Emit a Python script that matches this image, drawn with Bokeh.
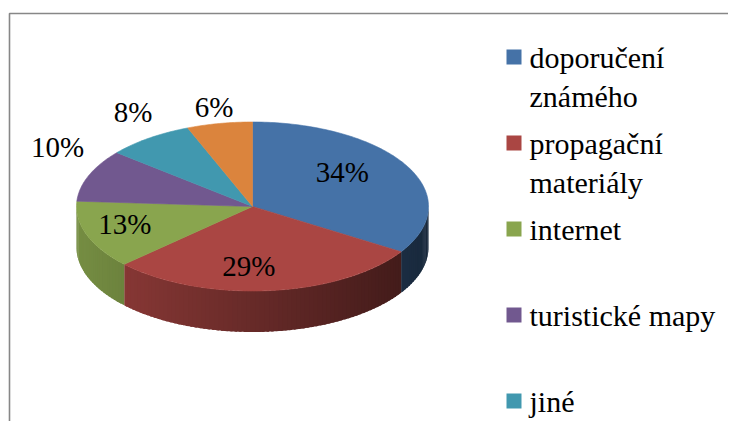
import numpy as np
from bokeh.plotting import figure
from bokeh.models import Range1d
from bokeh.embed import file_html
from bokeh.resources import INLINE
from bokeh.core.properties import value

# ---------------- data ----------------
shares = [34, 29, 13, 10, 8, 6]
slice_colors = ["#4572A7", "#AA4643", "#89A54E", "#71588F", "#4198AF", "#DB843D"]
legend_labels = ["doporučení\nznámého", "propagační\nmateriály", "internet",
                 "turistické mapy", "jiné"]

# ---------------- layout ----------------
W, H = 728, 421
CX, CY = 252.0, 206.0
RX, RY = 176.0, 84.5
DEPTH = 41.0
FONT = "Liberation Serif"

p = figure(width=W, height=H, x_range=Range1d(0, W), y_range=Range1d(H, 0),
           output_backend="svg", toolbar_location=None, min_border=0,
           x_axis_location=None, y_axis_location=None)
p.grid.visible = False
p.outline_line_color = None
p.background_fill_color = "white"
p.border_fill_color = "white"

# chart frame (left + top edges, the rest lies outside the picture)
p.line(x=[9, 9, W + 40], y=[H + 40, 13, 13], line_color="#878787", line_width=1.6)

vals = np.array(shares, dtype=float)
frac = vals / vals.sum()
cum = np.concatenate([[0.0], np.cumsum(frac)])
start_deg = 90.0 - 360.0 * cum[:-1]
end_deg = 90.0 - 360.0 * cum[1:]


def shade(h, f):
    h = h.lstrip("#")
    r, g, b = (int(h[i:i + 2], 16) for i in (0, 2, 4))
    return "#%02x%02x%02x" % (int(r * f), int(g * f), int(b * f))


def ex(t):
    return CX + RX * np.cos(t)


def ey(t):
    return CY - RY * np.sin(t)


# ---------------- sides (front half, shaded strips) ----------------
side_xs, side_ys, side_cols = [], [], []
for s, e, col in zip(start_deg, end_deg, slice_colors):
    hi = min(s, 0.0)
    lo = max(e, -180.0)
    if lo >= hi:
        continue
    n = max(2, int(np.ceil((hi - lo) / 1.5)) + 1)
    th_deg = np.linspace(hi, lo, n)
    for k in range(n - 1):
        a_d = th_deg[k]
        b_d = max(lo, th_deg[k + 1] - 0.8) if k < n - 2 else th_deg[k + 1]
        seg = np.radians(np.linspace(a_d, b_d, 3))
        top_x = ex(seg)
        top_y = ey(seg)
        side_xs.append(np.concatenate([top_x, top_x[::-1]]).tolist())
        side_ys.append(np.concatenate([top_y, (top_y + DEPTH)[::-1]]).tolist())
        u = (np.cos(np.radians((th_deg[k] + th_deg[k + 1]) / 2)) + 1) / 2
        side_cols.append(shade(col, 0.86 - 0.5 * u))
p.patches(xs=side_xs, ys=side_ys, fill_color=side_cols, line_color=None)

# ---------------- top faces ----------------
top_xs, top_ys = [], []
for s, e in zip(start_deg, end_deg):
    th = np.radians(np.linspace(s, e, max(3, int(abs(s - e)) + 2)))
    top_xs.append(np.concatenate([[CX], ex(th)]).tolist())
    top_ys.append(np.concatenate([[CY], ey(th)]).tolist())
p.patches(xs=top_xs, ys=top_ys, fill_color=slice_colors,
          line_color=slice_colors, line_width=0.6)

# ---------------- percentage labels ----------------
for v, s, e in zip(shares, start_deg, end_deg):
    m = np.radians((s + e) / 2)
    c, sn = np.cos(m), np.sin(m)
    if v >= 12:  # inside the slice
        x = CX + RX * 0.68 * c - 15
        y = CY - RY * 0.76 * sn - 4
    else:  # outside the pie
        x = CX + (RX + 8 + 24 * abs(c)) * c - 3
        y = CY - (RY + 22) * sn + 12 - 35 * abs(c)
    p.text(x=[float(x)], y=[float(y)], text=[f"{v}%"], text_font=value(FONT),
           text_font_size="29px", text_align="center", text_baseline="middle")

# ---------------- legend ----------------
for i, lab in enumerate(legend_labels):
    top = 49.0 + 86.0 * i
    p.quad(left=[506], right=[521], top=[top], bottom=[top + 15],
           fill_color=slice_colors[i], line_color=None)
    p.text(x=[529.0], y=[top - 9], text=[lab], text_font=value(FONT),
           text_font_size="30px", text_baseline="top")

open("out.html", "w").write(file_html(p, INLINE))
